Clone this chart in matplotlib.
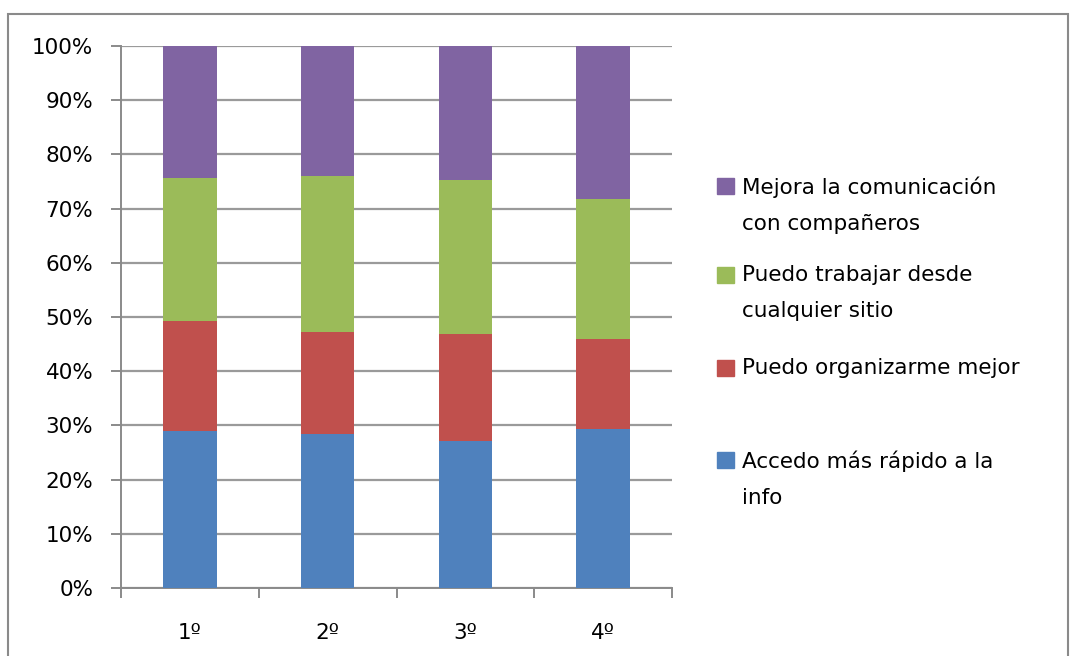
import matplotlib.pyplot as plt
from matplotlib.patches import Rectangle
from matplotlib.ticker import FuncFormatter, FixedLocator

# --------------------------
# 数据
# --------------------------
cursos = ['1º', '2º', '3º', '4º']
series = ['Accedo más rápido a la\ninfo',
          'Puedo organizarme mejor',
          'Puedo trabajar desde\ncualquier sitio',
          'Mejora la comunicación\ncon compañeros']
# 百分比（每段高度）
accedo = [28.9, 28.5, 27.2, 29.3]
organizar = [20.4, 18.7, 19.7, 16.7]
trabajar = [26.3, 28.9, 28.3, 25.8]
comunicacion = [24.4, 23.9, 24.8, 28.2]
valores = [accedo, organizar, trabajar, comunicacion]
colores = ['#4F81BD', '#C0504D', '#9BBB59', '#8064A2']

plt.rcParams['font.family'] = ['DejaVu Sans']

fig = plt.figure(figsize=(10.75, 6.56), dpi=100)
ax = fig.add_axes([121 / 1075, 1 - 588 / 656, 551 / 1075, 542 / 656])

x = list(range(len(cursos)))
bottom = [0.0] * len(cursos)
for vals, col in zip(valores, colores):
    ax.bar(x, vals, width=0.39, bottom=bottom, color=col, zorder=3)
    bottom = [b + v for b, v in zip(bottom, vals)]

ax.set_xlim(-0.5, len(cursos) - 0.5)
ax.set_ylim(0, 100)
ax.set_yticks(range(0, 101, 10))
ax.yaxis.set_major_formatter(FuncFormatter(lambda v, p: f'{int(v)}%'))
ax.grid(axis='y', color='#9A9A9A', linewidth=1.6, zorder=0)

ax.set_xticks(x)
ax.set_xticklabels(cursos)
ax.xaxis.set_minor_locator(FixedLocator([i - 0.5 for i in range(len(cursos) + 1)]))
ax.tick_params(axis='x', which='major', length=0, pad=25, labelsize=15.5)
ax.tick_params(axis='x', which='minor', length=7, width=1.4, color='#8A8A8A')
ax.tick_params(axis='y', length=7, width=1.4, color='#8A8A8A', pad=13, labelsize=15.5)

for side in ['top', 'right']:
    ax.spines[side].set_visible(False)
for side in ['left', 'bottom']:
    ax.spines[side].set_color('#8A8A8A')
    ax.spines[side].set_linewidth(1.4)

# 图例（手动放置，文字顶部对齐）
tops = [175, 264, 357, 449]
for name, col, top in zip(series[::-1], colores[::-1], tops):
    fig.patches.append(Rectangle((717 / 1075, 1 - (top + 19) / 656), 17 / 1075, 16 / 656,
                                 transform=fig.transFigure, color=col))
    fig.text(742 / 1075, 1 - (top + 1) / 656, name, fontsize=15.5, va='top', ha='left',
             linespacing=2.0)

# 外框
fig.patches.append(Rectangle((8 / 1075, -0.02), 1060 / 1075, 1 - 14 / 656 + 0.02,
                             transform=fig.transFigure, fill=False,
                             edgecolor='#8A8A8A', linewidth=1.5))

fig.savefig('out.png', dpi=100)
